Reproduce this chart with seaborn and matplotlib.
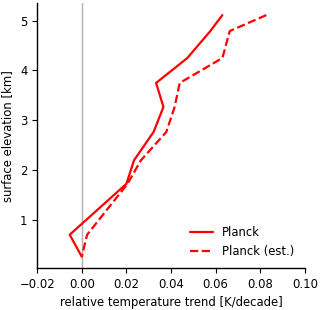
import numpy as np
import pandas as pd
import seaborn as sns
import matplotlib
matplotlib.use("Agg")
import matplotlib.pyplot as plt

# surface elevation levels [km] and trends [K/decade]
elevation = [5.11, 4.79, 4.25, 3.75, 3.27, 2.77, 2.2, 1.73, 0.71, 0.27]
planck = [0.063, 0.0576, 0.0473, 0.0333, 0.0366, 0.0322, 0.0234, 0.020, -0.0054, 0.0]
planck_est = [0.0827, 0.0663, 0.063, 0.0439, 0.0416, 0.0379, 0.0265, 0.0205, 0.0024, 0.0]

sns.set_style("ticks", {"axes.edgecolor": "black", "xtick.color": "black",
                        "ytick.color": "black", "text.color": "black",
                        "axes.labelcolor": "black"})
plt.rcParams['font.family'] = ['DejaVu Sans']
plt.rcParams['font.size'] = 8.4
plt.rcParams['axes.linewidth'] = 1.0

fig = plt.figure(figsize=(3.2, 3.1), dpi=100)
ax = fig.add_axes([0.116, 0.135, 0.837, 0.855])

ax.axvline(0, color='#b0b0b0', lw=1, zorder=0)

sns.lineplot(x=planck, y=elevation, sort=False, estimator=None, color='red',
             lw=1.6, ax=ax, label='Planck')
sns.lineplot(x=planck_est, y=elevation, sort=False, estimator=None, color='red',
             lw=1.6, ls='--', ax=ax, label='Planck (est.)')

ax.set_xlim(-0.02, 0.10)
ax.set_ylim(0.04, 5.35)
ax.set_xticks(np.arange(-0.02, 0.101, 0.02))
ax.set_yticks([1, 2, 3, 4, 5])
ax.tick_params(labelsize=8.4)
ax.set_xlabel('relative temperature trend [K/decade]', fontsize=8.4)
ax.set_ylabel('surface elevation [km]', fontsize=8.4)
sns.despine(ax=ax)
ax.legend(loc='lower right', frameon=False, fontsize=8.4)

fig.savefig('out.png', dpi=100)
